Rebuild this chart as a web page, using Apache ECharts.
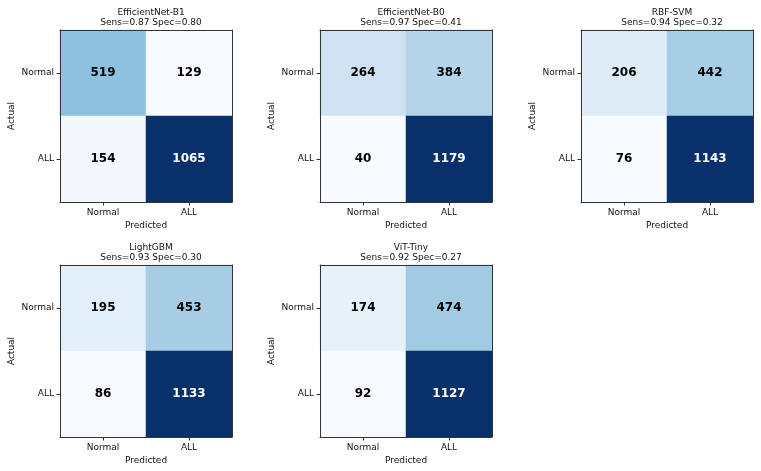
<!DOCTYPE html>
<html>
<head>
<meta charset="utf-8">
<script src="https://cdn.jsdelivr.net/npm/echarts@6/dist/echarts.min.js"></script>
<style>
  html, body { margin: 0; padding: 0; background: #fff; }
  #main { width: 761px; height: 471px; }
</style>
</head>
<body>
<div id="main"></div>
<script>
var models = ['EfficientNet-B1', 'EfficientNet-B0', 'RBF-SVM', 'LightGBM', 'ViT-Tiny'];
var sens = ['0.87', '0.97', '0.94', '0.93', '0.92'];
var spec = ['0.80', '0.41', '0.32', '0.30', '0.27'];
var classes = ['Normal', 'ALL'];
// rows = actual (Normal, ALL), cols = predicted (Normal, ALL)
var cmB1 = [[519, 129], [154, 1065]];
var cmB0 = [[264, 384], [40, 1179]];
var cmSvm = [[206, 442], [76, 1143]];
var cmLgbm = [[195, 453], [86, 1133]];
var cmVit = [[174, 474], [92, 1127]];
var matrices = [cmB1, cmB0, cmSvm, cmLgbm, cmVit];

var blues = ['#f7fbff', '#deebf7', '#c6dbef', '#9ecae1', '#6baed6', '#4292c6', '#2171b5', '#08519c', '#08306b'];
var boxes = [[60, 30], [320, 30], [581, 30], [60, 265], [320, 265]];
var box = 172;
var font = 'DejaVu Sans';

var chart = echarts.init(document.getElementById('main'));
var grids = [], xAxes = [], yAxes = [], series = [], maps = [], titles = [];

for (let i = 0; i < models.length; i++) {
  var m = matrices[i];
  var flat = [m[0][0], m[0][1], m[1][0], m[1][1]];
  var lo = Math.min.apply(null, flat), hi = Math.max.apply(null, flat);
  grids.push({ left: boxes[i][0], top: boxes[i][1], width: box, height: box });
  titles.push({
    text: models[i] + '\nSens=' + sens[i] + ' Spec=' + spec[i],
    left: boxes[i][0] + box / 2, top: boxes[i][1] - 28, textAlign: 'center',
    textStyle: { fontFamily: font, fontSize: 9, fontWeight: 'normal', color: '#111', lineHeight: 10.5 }
  });
  // main axes
  xAxes.push({
    type: 'category', data: classes, gridIndex: i, position: 'bottom', z: 5,
    name: 'Predicted', nameLocation: 'middle', nameGap: 19,
    nameTextStyle: { fontFamily: font, fontSize: 9, color: '#111' },
    axisLine: { show: true, lineStyle: { color: '#333', width: 1 } },
    axisTick: { show: true, alignWithLabel: true, length: 3.5, lineStyle: { color: '#333' } },
    axisLabel: { fontFamily: font, fontSize: 9, color: '#111', margin: 6 },
    splitLine: { show: false }
  });
  yAxes.push({
    type: 'category', data: classes, gridIndex: i, inverse: true, position: 'left', z: 5,
    name: 'Actual', nameLocation: 'middle', nameGap: 44, nameRotate: 90,
    nameTextStyle: { fontFamily: font, fontSize: 9, color: '#111' },
    axisLine: { show: true, lineStyle: { color: '#333', width: 1 } },
    axisTick: { show: true, alignWithLabel: true, length: 3.5, lineStyle: { color: '#333' } },
    axisLabel: { fontFamily: font, fontSize: 9, color: '#111', margin: 6 },
    splitLine: { show: false }
  });
  // frame axes (top / right)
  xAxes.push({
    type: 'category', data: classes, gridIndex: i, position: 'top', z: 5,
    axisLine: { show: true, lineStyle: { color: '#333', width: 1 } },
    axisTick: { show: false }, axisLabel: { show: false }, splitLine: { show: false }
  });
  yAxes.push({
    type: 'category', data: classes, gridIndex: i, position: 'right', z: 5,
    axisLine: { show: true, lineStyle: { color: '#333', width: 1 } },
    axisTick: { show: false }, axisLabel: { show: false }, splitLine: { show: false }
  });
  var data = [];
  for (let r = 0; r < 2; r++) {
    for (let c = 0; c < 2; c++) {
      var v = m[r][c];
      data.push({ value: [c, r, v], label: { color: v > hi / 2 ? '#fff' : '#000' } });
    }
  }
  series.push({
    type: 'heatmap', xAxisIndex: 2 * i, yAxisIndex: 2 * i, data: data,
    label: {
      show: true, fontFamily: font, fontSize: 12, fontWeight: 'bold',
      formatter: function (p) { return p.value[2]; }
    },
    emphasis: { disabled: true }
  });
  maps.push({ show: false, seriesIndex: i, min: lo, max: hi, inRange: { color: blues } });
}

chart.setOption({
  animation: false,
  backgroundColor: '#fff',
  title: titles,
  grid: grids,
  xAxis: xAxes,
  yAxis: yAxes,
  visualMap: maps,
  series: series
});
</script>
</body>
</html>
